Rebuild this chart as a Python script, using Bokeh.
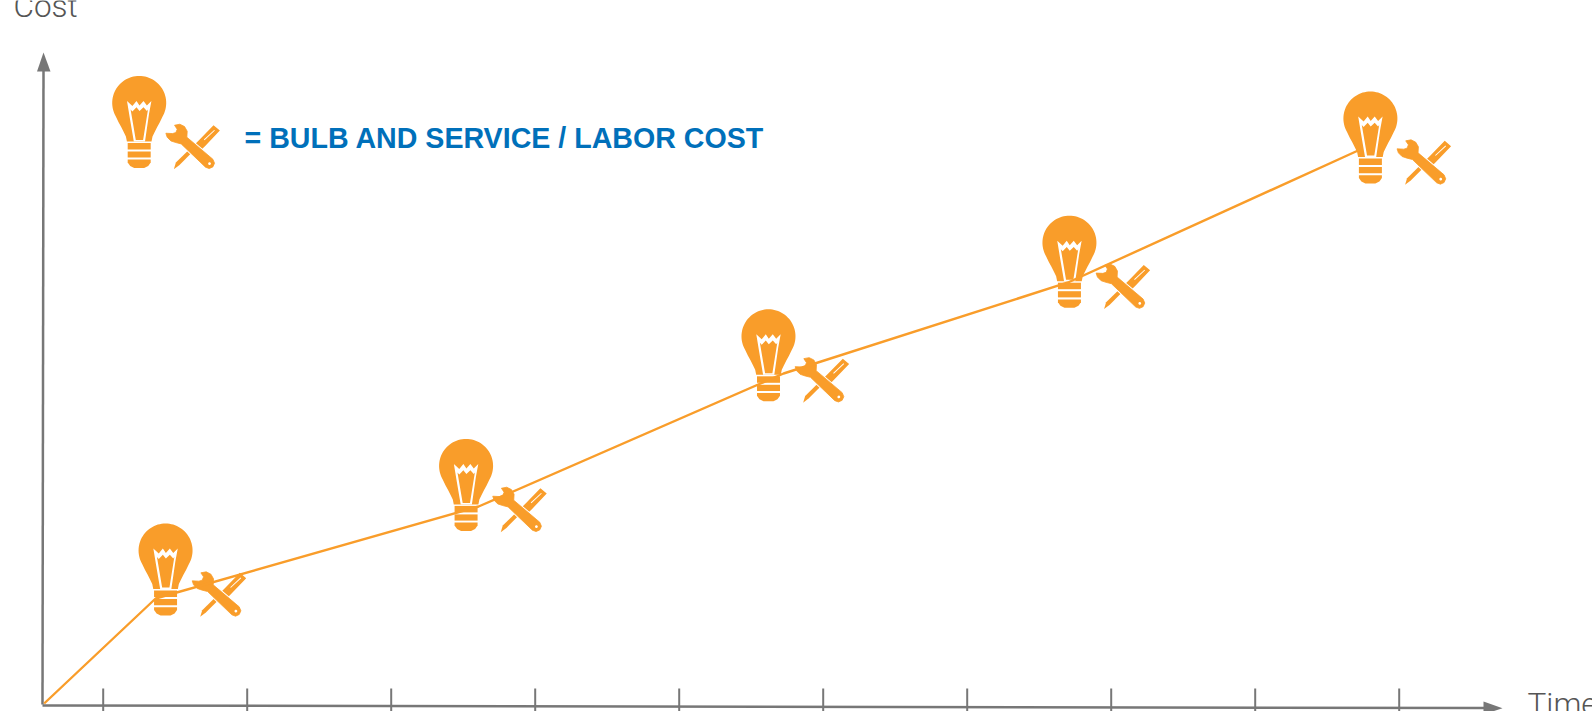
import numpy as np
from bokeh.plotting import figure
from bokeh.models import Range1d, ColumnDataSource
from bokeh.core.properties import value
from bokeh.embed import file_html
from bokeh.resources import INLINE

# ---- data (time in tick units, cost in arbitrary units) ----
time_ticks = [1, 2, 3, 4, 5, 6, 7, 8, 9, 10]
series_time = [0.59, 1.364, 3.607, 5.725, 7.70, 9.73]
series_cost = [0.0, 1.75, 3.283, 5.5, 7.017, 9.233]
icon_time = [1.433, 3.52, 5.62, 7.71, 9.80]
icon_cost = [3.0, 4.41, 6.57, 8.13, 10.2]
legend_time = [1.25]
legend_cost = [10.46]
legend_text = "= BULB AND SERVICE / LABOR COST"
x_label = "Time"
y_label = "Cost"

ORANGE = "#F99D2A"
BLUE = "#0070BA"
GREY = "#777777"

# scale between data units and page pixels
PX_T = 144.0
PX_C = 60.0
def X(px): return 1 + (np.asarray(px, float) - 102.7) / PX_T
def Y(py): return (703 - np.asarray(py, float)) / PX_C
def PXX(t): return 102.7 + (t - 1) * PX_T
def PXY(c): return 703 - c * PX_C

p = figure(width=1592, height=711, output_backend="svg", toolbar_location=None,
           x_range=Range1d(float(X(0)), float(X(1592))),
           y_range=Range1d(float(Y(711)), float(Y(0))),
           min_border=0, outline_line_color=None, background_fill_color="white")
p.axis.visible = False
p.grid.visible = False

# ---- icon shapes, in pixels relative to the bulb's centre / top ----
a = np.radians(np.linspace(-90, 30, 30))
hw = 27.0; cv = 27.0
right = [(hw * np.cos(t), cv + 27.0 * np.sin(t)) for t in a]
right += [(20.5, 46.5), (18, 51), (15.5, 56), (13.3, 60.5), (12.3, 65.5)]
glass = right + [(-u, v) for u, v in reversed(right)]
bands = [
    [(-11.5, 67), (11.5, 67), (11.5, 73.5), (-11.5, 73.5)],
    [(-11.5, 75.5), (11.5, 75.5), (11.5, 81.7), (-11.5, 81.7)],
    [(-11.5, 83.7), (11.5, 83.7), (11.5, 86.5), (9, 90), (5, 92), (-5, 92), (-9, 90), (-11.5, 86.5)],
]
fil_outer = [(-12.2, 25), (-6.8, 30), (-2.7, 25), (0.3, 29.5), (4.3, 25), (7.7, 29.5), (12.2, 25),
             (9.8, 38), (5.8, 65.5), (-5.4, 65.5), (-9.4, 42)]
fil_inner = [(-8.6, 33.5), (-6.8, 35.5), (-2.7, 31.3), (0.3, 35), (4.3, 31.3), (7.7, 35), (8.8, 33.5),
             (3.9, 64), (-3.4, 64)]

def crop(pts):
    return [((x - 122) / 3, (y - 8) / 3) for x, y in pts]

wrench = crop([(228, 156), (244, 153), (258, 160), (266, 174), (265, 192), (343, 258), (348, 270),
               (343, 281), (332, 286), (321, 282), (248, 212), (232, 208), (217, 203), (206, 192),
               (202, 180), (222, 181), (232, 178), (236, 168)])
driver_shaft = crop([(226, 288), (232, 268), (289, 212), (298, 220), (243, 275)])
driver_handle = crop([(290, 212), (302, 200), (345, 156), (364, 172), (320, 218), (306, 232)])
driver_slit = crop([(316, 199), (347, 170), (349, 172), (318, 201)])
hole_c = ((333 - 122) / 3, (271 - 8) / 3)
hole = [(hole_c[0] + 1.4 * np.cos(t), hole_c[1] + 1.4 * np.sin(t)) for t in np.linspace(0, 2 * np.pi, 14)[:-1]]

layers = {"o1": [glass] + bands + [driver_shaft, driver_handle], "w1": [fil_outer, driver_slit],
          "o2": [fil_inner], "w": [wrench], "w2": [hole]}

anchors = [(float(PXX(t)), float(PXY(c))) for t, c in zip(legend_time + icon_time, legend_cost + icon_cost)]

def build(shapes):
    xs, ys = [], []
    for ax, ay in anchors:
        for s in shapes:
            xs.append(X([ax + u for u, v in s]).tolist())
            ys.append(Y([ay + v for u, v in s]).tolist())
    return ColumnDataSource(dict(xs=xs, ys=ys))

p.patches("xs", "ys", source=build(layers["o1"]), fill_color=ORANGE, line_color=None)
p.patches("xs", "ys", source=build(layers["w1"]), fill_color="white", line_color=None)
p.patches("xs", "ys", source=build(layers["o2"]), fill_color=ORANGE, line_color=None)
p.patches("xs", "ys", source=build(layers["w"]), fill_color="white", line_color="white", line_width=2.6)
p.patches("xs", "ys", source=build(layers["w"]), fill_color=ORANGE, line_color=ORANGE, line_width=0.8)
p.patches("xs", "ys", source=build(layers["w2"]), fill_color="white", line_color=None)

# ---- axes ----
p.line(X([42, 43]), Y([704, 68]), line_color=GREY, line_width=2.5)
p.line(X([42, 1486]), Y([705, 707.5]), line_color=GREY, line_width=2.5)
p.patch(X([43, 36.5, 50]), Y([52, 71, 71]), fill_color=GREY, line_color=None)
p.patch(X([1502, 1483, 1483]), Y([707.7, 701, 714]), fill_color=GREY, line_color=None)
tt = np.array(time_ticks, float)
p.segment(tt, Y(np.full(len(tt), 688)), tt, Y(np.full(len(tt), 720)), line_color=GREY, line_width=2)

# ---- series ----
p.line(series_time, series_cost, line_color=ORANGE, line_width=2.4)

# ---- text ----
p.text(X([13]), Y([5.5]), text=[y_label], text_font=value("Roboto Light"), text_font_size="31.5px",
       text_color="#555555", text_baseline="alphabetic")
p.text(X([1527]), Y([704]), text=[x_label], text_font=value("Roboto Light"), text_font_size="31.5px",
       text_color="#555555", text_baseline="alphabetic")
p.text(X([244]), Y([137]), text=[legend_text], text_font=value("Liberation Sans"), text_font_size="28.6px",
       text_font_style="bold", text_color=BLUE, text_baseline="alphabetic")

open("out.html", "w").write(file_html(p, INLINE))
